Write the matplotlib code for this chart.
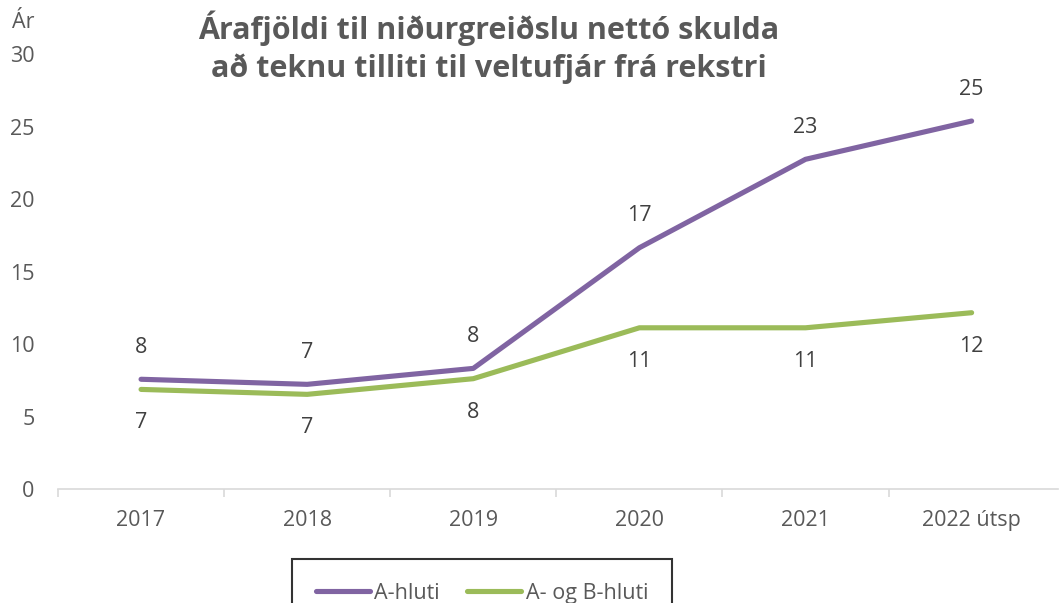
import matplotlib.pyplot as plt

years = ['2017', '2018', '2019', '2020', '2021', '2022 útsp']
a_hluti = [7.57, 7.22, 8.32, 16.64, 22.74, 25.38]
ab_hluti = [6.87, 6.53, 7.61, 11.12, 11.12, 12.16]
yticks = [0, 5, 10, 15, 20, 25, 30]

plt.rcParams['font.family'] = ['Open Sans', 'DejaVu Sans']

purple = '#8064A2'
green = '#9BBB59'
grey = '#595959'
dark = '#404040'
fs = 15.5

fig = plt.figure(figsize=(10.6, 6.03), dpi=100)
ax = fig.add_axes([58 / 1060, 0.189, (1058 - 58) / 1060, 0.9104 - 0.189])

x = list(range(len(years)))
ax.plot(x, a_hluti, color=purple, lw=3.7, solid_capstyle='round', label='A-hluti')
ax.plot(x, ab_hluti, color=green, lw=3.7, solid_capstyle='round', label='A- og B-hluti')

for i, v in enumerate(a_hluti):
    ax.annotate(f'{v:.0f}', (i, v), xytext=(0, 23), textcoords='offset points',
                ha='center', va='center', fontsize=fs, color=dark)
for i, v in enumerate(ab_hluti):
    ax.annotate(f'{v:.0f}', (i, v), xytext=(0, -24), textcoords='offset points',
                ha='center', va='center', fontsize=fs, color=dark)

ax.set_xlim(-0.5, len(years) - 0.48)
ax.set_ylim(0, 30)
ax.set_yticks(yticks)
ax.set_yticklabels([str(t) for t in yticks], fontsize=fs, color=grey)
ax.tick_params(axis='y', length=0, pad=17)

# category boundaries as major ticks, labels on minor ticks
ax.set_xticks([i - 0.5 for i in range(len(years))])
ax.set_xticklabels([])
ax.set_xticks(x, minor=True)
ax.set_xticklabels(years, minor=True, fontsize=fs, color=grey)
ax.tick_params(axis='x', which='major', length=6, color='#D9D9D9', width=1.2)
ax.tick_params(axis='x', which='minor', length=0, pad=15)

for s in ['top', 'right', 'left']:
    ax.spines[s].set_visible(False)
ax.spines['bottom'].set_color('#D9D9D9')
ax.spines['bottom'].set_linewidth(1.2)

fig.text(12 / 1060, 1 - 22 / 603, 'Ár', fontsize=fs, color=grey, va='center', ha='left')
fig.text(489 / 1060, 1 - 47 / 603,
         'Árafjöldi til niðurgreiðslu nettó skulda\nað teknu tilliti til veltufjár frá rekstri',
         ha='center', va='center', fontsize=22, fontweight='bold', color=grey,
         linespacing=1.3)

leg = fig.legend(loc='upper left', bbox_to_anchor=(292 / 1060, 1 - 559 / 603), ncol=2,
                 frameon=True, fancybox=False, fontsize=fs, handlelength=2.5,
                 handletextpad=0.2, columnspacing=1.3, borderpad=1.1, borderaxespad=0)
leg.get_frame().set_edgecolor('black')
leg.get_frame().set_linewidth(1.5)
for t in leg.get_texts():
    t.set_color(grey)

fig.savefig('out.png', dpi=100)
